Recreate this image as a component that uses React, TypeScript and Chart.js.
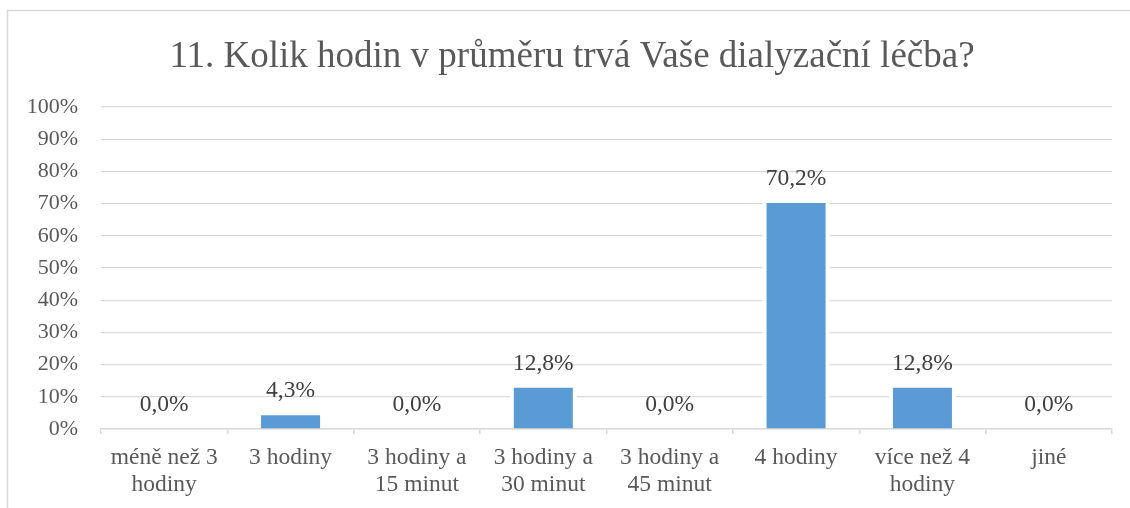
import React, { useEffect, useRef } from "react";
import { Chart, registerables } from "chart.js";

Chart.register(...registerables);

const TITLE = "11. Kolik hodin v průměru trvá Vaše dialyzační léčba?";
const categories: string[][] = [
  ["méně než 3", "hodiny"],
  ["3 hodiny"],
  ["3 hodiny a", "15 minut"],
  ["3 hodiny a", "30 minut"],
  ["3 hodiny a", "45 minut"],
  ["4 hodiny"],
  ["více než 4", "hodiny"],
  ["jiné"],
];
const values: number[] = [0.0, 4.3, 0.0, 12.8, 0.0, 70.2, 12.8, 0.0];
const yMax = 100;
const yStep = 10;

const FONT = '"Liberation Serif", "Times New Roman", serif';
const BAR_COLOR = "#5B9BD5";
const GRID = "#d9d9d9";
const TEXT = "#595959";
const LABEL = "#404040";

const bgPlugin = {
  id: "bgFrame",
  beforeDraw(chart: any) {
    const ctx = chart.ctx;
    ctx.save();
    ctx.fillStyle = "#ffffff";
    ctx.fillRect(0, 0, chart.width, chart.height);
    ctx.strokeStyle = GRID;
    ctx.lineWidth = 1.5;
    ctx.strokeRect(7.5, 10.5, 1300, 700);
    ctx.fillStyle = TEXT;
    ctx.font = "37px " + FONT;
    ctx.textAlign = "center";
    ctx.textBaseline = "alphabetic";
    ctx.fillText(TITLE, 572, 67);
    ctx.restore();
  },
};

const barGapPlugin = {
  id: "barGap",
  beforeDatasetsDraw(chart: any) {
    const ctx = chart.ctx;
    const meta = chart.getDatasetMeta(0);
    ctx.save();
    ctx.fillStyle = "#ffffff";
    meta.data.forEach((bar: any, i: number) => {
      if (!values[i]) return;
      const p = bar.getProps(["x", "y", "base", "width"], true);
      const g = 4;
      ctx.fillRect(p.x - p.width / 2 - g, p.y - g, p.width + 2 * g, p.base - p.y + g - 1);
    });
    ctx.restore();
  },
};

const dataLabelPlugin = {
  id: "dataLabels",
  afterDatasetsDraw(chart: any) {
    const ctx = chart.ctx;
    const meta = chart.getDatasetMeta(0);
    ctx.save();
    ctx.fillStyle = LABEL;
    ctx.font = "23.5px " + FONT;
    ctx.textAlign = "center";
    ctx.textBaseline = "middle";
    meta.data.forEach((bar: any, i: number) => {
      const p = bar.getProps(["x", "y"], true);
      const txt = values[i].toFixed(1).replace(".", ",") + "%";
      ctx.fillText(txt, p.x, p.y - 24);
    });
    ctx.restore();
  },
};

export default function App() {
  const ref = useRef<HTMLCanvasElement>(null);
  useEffect(() => {
    if (!ref.current) return;
    Chart.defaults.font.family = FONT;
    const chart = new Chart(ref.current, {
      type: "bar",
      data: {
        labels: categories,
        datasets: [
          {
            data: values,
            backgroundColor: BAR_COLOR,
            borderWidth: 0,
            barPercentage: 0.467,
            categoryPercentage: 1,
          },
        ],
      },
      options: {
        responsive: false,
        animation: false,
        layout: { padding: { left: 0, right: 18, top: 107, bottom: 0 } },
        plugins: {
          legend: { display: false },
          title: { display: false },
          tooltip: { enabled: false },
        },
        scales: {
          x: {
            grid: {
              display: true,
              drawOnChartArea: false,
              drawTicks: true,
              tickLength: 5,
              color: GRID,
              lineWidth: 1.5,
              offset: true,
            },
            border: { display: true, color: GRID, width: 1.5 },
            ticks: {
              color: TEXT,
              font: { size: 23.5, family: FONT, lineHeight: 1.15 },
              padding: 10,
              maxRotation: 0,
              autoSkip: false,
            },
            afterFit(scale: any) {
              scale.height = 79;
            },
          },
          y: {
            min: 0,
            max: yMax,
            grid: { color: GRID, lineWidth: 1.3, drawTicks: false },
            border: { display: false },
            ticks: {
              stepSize: yStep,
              color: TEXT,
              font: { size: 22, family: FONT },
              padding: 23,
              callback: (v: any) => v + "%",
            },
            afterFit(scale: any) {
              scale.width = 101;
            },
          },
        },
      },
      plugins: [bgPlugin, barGapPlugin, dataLabelPlugin],
    });
    return () => chart.destroy();
  }, []);
  return (
    <div style={{ position: "fixed", left: 0, top: 0, width: 1130, height: 508, background: "#fff" }}>
      <canvas ref={ref} width={1130} height={508} style={{ display: "block" }} />
    </div>
  );
}
